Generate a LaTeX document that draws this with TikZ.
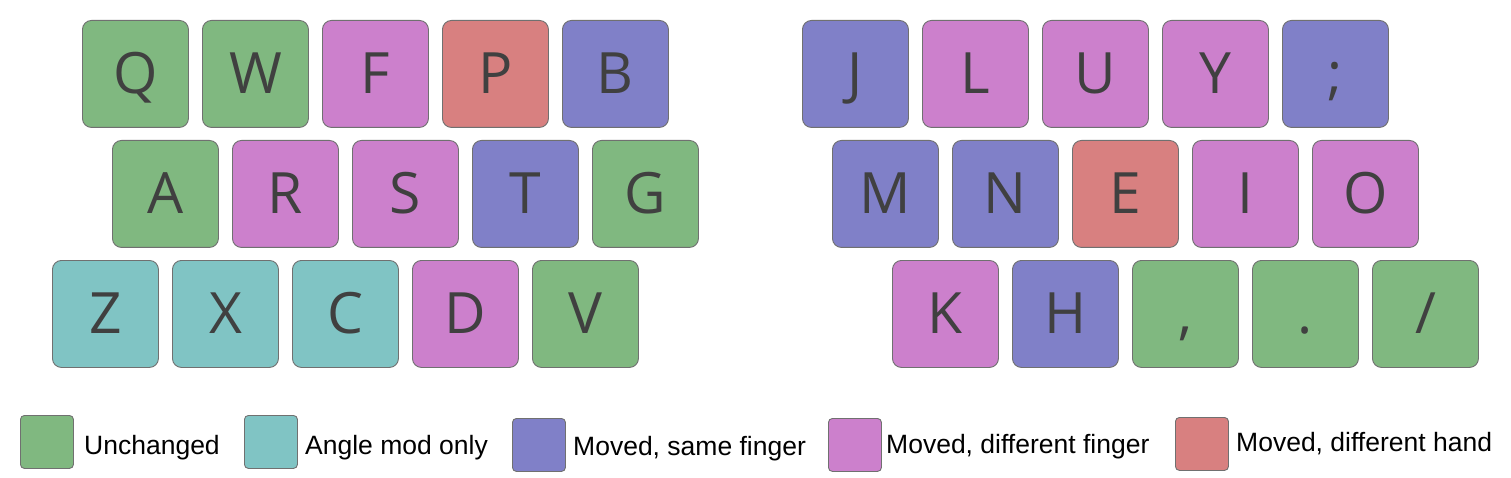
\documentclass[tikz,border=0pt]{standalone}
\usepackage{fontspec}
\setmainfont{Liberation Sans}
\newfontfamily\keyfont{Open Sans}
\definecolor{cgreen}{RGB}{128,184,128}
\definecolor{cteal}{RGB}{128,196,196}
\definecolor{cblue}{RGB}{128,128,200}
\definecolor{cpink}{RGB}{204,128,204}
\definecolor{cred}{RGB}{216,128,128}
\definecolor{keytext}{RGB}{64,64,64}
\definecolor{keyedge}{RGB}{112,112,112}
\tikzset{
  keybox/.style={draw=keyedge, line width=0.9pt, rounded corners=9pt, minimum width=106pt, minimum height=107pt, inner sep=0pt, text height=40pt, text depth=0pt, anchor=north west, text=keytext, font=\keyfont\fontsize{57}{60}\selectfont},
  legbox/.style={draw=keyedge, line width=0.9pt, rounded corners=4pt, minimum width=53pt, minimum height=53pt, inner sep=0pt, anchor=north west},
  legtext/.style={anchor=base west, inner sep=0pt, font=\fontsize{26.5}{30}\selectfont}
}
\begin{document}
\begin{tikzpicture}[x=1pt,y=-1pt]
\useasboundingbox (0,0) rectangle (1511,478);
% left row 1
\node[keybox, fill=cgreen] (kQ) at (82,20) {Q};
\node[keybox, fill=cgreen] (kW) at (202,20) {W};
\node[keybox, fill=cpink] (kF) at (322,20) {F};
\node[keybox, fill=cred] (kP) at (442,20) {P};
\node[keybox, fill=cblue] (kB) at (562,20) {B};
% left row 2
\node[keybox, fill=cgreen] (kA) at (112,140) {A};
\node[keybox, fill=cpink] (kR) at (232,140) {R};
\node[keybox, fill=cpink] (kS) at (352,140) {S};
\node[keybox, fill=cblue] (kT) at (472,140) {T};
\node[keybox, fill=cgreen] (kG) at (592,140) {G};
% left row 3
\node[keybox, fill=cteal] (kZ) at (52,260) {Z};
\node[keybox, fill=cteal] (kX) at (172,260) {X};
\node[keybox, fill=cteal] (kC) at (292,260) {C};
\node[keybox, fill=cpink] (kD) at (412,260) {D};
\node[keybox, fill=cgreen] (kV) at (532,260) {V};
% right row 1
\node[keybox, fill=cblue] (kJ) at (802,20) {J};
\node[keybox, fill=cpink] (kL) at (922,20) {L};
\node[keybox, fill=cpink] (kU) at (1042,20) {U};
\node[keybox, fill=cpink] (kY) at (1162,20) {Y};
\node[keybox, fill=cblue] (kSemi) at (1282,20) {;};
% right row 2
\node[keybox, fill=cblue] (kM) at (832,140) {M};
\node[keybox, fill=cblue] (kN) at (952,140) {N};
\node[keybox, fill=cred] (kE) at (1072,140) {E};
\node[keybox, fill=cpink] (kI) at (1192,140) {I};
\node[keybox, fill=cpink] (kO) at (1312,140) {O};
% right row 3
\node[keybox, fill=cpink] (kK) at (892,260) {K};
\node[keybox, fill=cblue] (kH) at (1012,260) {H};
\node[keybox, fill=cgreen] (kComma) at (1132,260) {,};
\node[keybox, fill=cgreen] (kDot) at (1252,260) {.};
\node[keybox, fill=cgreen] (kSlash) at (1372,260) {/};
% legend
\node[legbox, fill=cgreen] (l1) at (20,415) {};
\node[legtext] (t1) at (84,454) {Unchanged};
\node[legbox, fill=cteal] (l2) at (244,415) {};
\node[legtext] (t2) at (305,454) {Angle mod only};
\node[legbox, fill=cblue] (l3) at (512,418) {};
\node[legtext] (t3) at (573,455) {Moved, same finger};
\node[legbox, fill=cpink] (l4) at (828,418) {};
\node[legtext] (t4) at (886,453) {Moved, different finger};
\node[legbox, fill=cred] (l5) at (1175,417) {};
\node[legtext] (t5) at (1236,451) {Moved, different hand};
\end{tikzpicture}
\end{document}
